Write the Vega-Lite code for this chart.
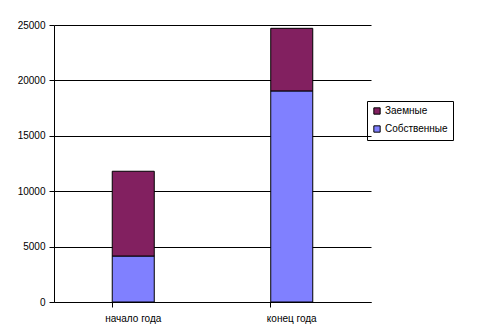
{
  "$schema": "https://vega.github.io/schema/vega-lite/v6.json",
  "width": 317,
  "height": 277,
  "autosize": {"type": "none"},
  "padding": {"left": 54, "top": 25, "right": 120, "bottom": 33},
  "background": "white",
  "data": {"values": [
    {"period": "начало года", "type": "Собственные", "value": 4150, "ord": 1},
    {"period": "начало года", "type": "Заемные", "value": 7650, "ord": 2},
    {"period": "конец года", "type": "Собственные", "value": 19050, "ord": 1},
    {"period": "конец года", "type": "Заемные", "value": 5650, "ord": 2}
  ]},
  "mark": {"type": "bar", "stroke": "black", "strokeWidth": 1},
  "encoding": {
    "x": {
      "field": "period", "type": "nominal", "sort": ["начало года", "конец года"],
      "scale": {"paddingInner": 0.735, "paddingOuter": 0.3675},
      "axis": {"title": null, "labelAngle": 0, "bandPosition": 0, "tickSize": 5, "tickColor": "black", "domainColor": "black", "labelFont": "Liberation Sans", "labelFontSize": 10, "labelColor": "black", "labelPadding": 6, "grid": false}
    },
    "y": {
      "field": "value", "type": "quantitative", "stack": "zero",
      "scale": {"domain": [0, 25000], "nice": false},
      "axis": {"title": null, "values": [0, 5000, 10000, 15000, 20000, 25000], "tickSize": 5, "tickColor": "black", "domainColor": "black", "gridColor": "black", "gridOpacity": 1, "labelFont": "Liberation Sans", "labelFontSize": 10, "labelColor": "black", "labelPadding": 4, "format": "d"}
    },
    "color": {
      "field": "type", "type": "nominal",
      "scale": {"domain": ["Заемные", "Собственные"], "range": ["#822060", "#8080FF"]},
      "legend": {"title": null, "orient": "none", "legendX": 313, "legendY": 76, "strokeColor": "black", "padding": 5, "symbolType": "square", "symbolSize": 40, "symbolStrokeColor": "black", "symbolStrokeWidth": 1, "labelFont": "Liberation Sans", "labelFontSize": 10, "labelColor": "black", "rowPadding": 6, "labelOffset": 3}
    },
    "order": {"field": "ord", "type": "quantitative"}
  },
  "config": {"view": {"stroke": null}}
}
